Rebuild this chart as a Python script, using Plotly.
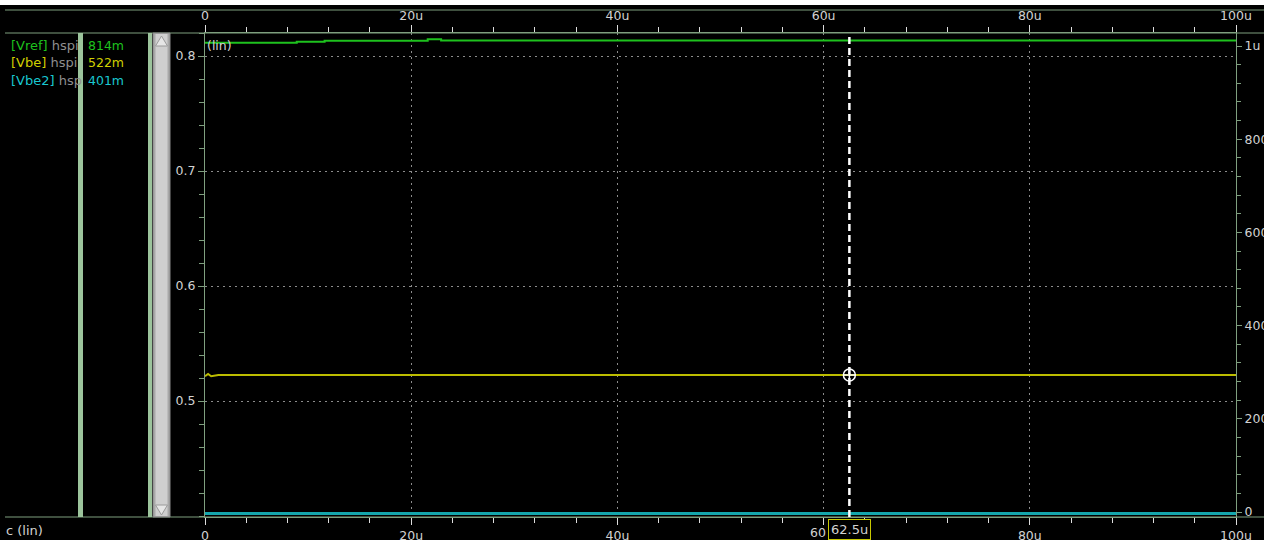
import plotly.graph_objects as go

# ---------------- data ----------------
vref_t_us = [0, 8.9, 11.6, 21.6, 22.9, 100]
vref_v = [0.8116, 0.8125, 0.8133, 0.8145, 0.8135, 0.8135]

vbe_t_us = [0, 0.3, 0.6, 1.3, 100]
vbe_v = [0.5215, 0.5235, 0.5215, 0.5226, 0.5226]

vbe2_t_us = [0, 100]
vbe2_v = [0.4022, 0.4022]

x_tick_us = [0, 20, 40, 60, 80, 100]
x_tick_text_top = ["0", "20u", "40u", "60u", "80u", "100u"]
x_tick_text_bottom = ["0", "20u", "40u", "", "80u", "100u"]
x_tick_hidden_label = "60"   # bottom 60u label, partly hidden by the cursor box
y_tick_vals = [0.5, 0.6, 0.7, 0.8]
y_tick_text = ["0.5", "0.6", "0.7", "0.8"]
y2_tick_vals = [0, 200e-9, 400e-9, 600e-9, 800e-9, 1e-6]
y2_tick_text = ["0", "200n", "400n", "600n", "800n", "1u"]

legend_names = ["[Vref]", "[Vbe]", "[Vbe2]"]
legend_src = ["hspi", "hspi", "hsp"]
legend_vals = ["814m", "522m", "401m"]
cursor_us = 62.5
cursor_label = "62.5u"

# ---------------- styling ----------------
W, H = 1264, 540
def px(x): return x / W
def py(y): return 1 - y / H

C_VREF = "#1ec21e"
C_VBE = "#bcbc00"
C_VBE2 = "#14a6ac"
AX = "#7f9f7f"
TXT = "#d2d2d2"
GRID = "#8c8c8c"
FONT = "DejaVu Sans"

us = 1e-6
fig = go.Figure()
fig.add_trace(go.Scatter(x=[t * us for t in vref_t_us], y=vref_v, mode="lines",
                         line=dict(color=C_VREF, width=2, shape="hv"), hoverinfo="skip"))
fig.add_trace(go.Scatter(x=[t * us for t in vbe_t_us], y=vbe_v, mode="lines",
                         line=dict(color=C_VBE, width=2), hoverinfo="skip"))
fig.add_trace(go.Scatter(x=[t * us for t in vbe2_t_us], y=vbe2_v, mode="lines",
                         line=dict(color=C_VBE2, width=3), hoverinfo="skip"))
# cursor marker on Vbe
fig.add_trace(go.Scatter(x=[cursor_us * us], y=[vbe_v[-1]], mode="markers",
                         marker=dict(symbol="circle-cross-open", size=12, color="white",
                                     line=dict(width=1.5, color="white")), hoverinfo="skip"))
# dummy traces so extra axes render
fig.add_trace(go.Scatter(x=[0], y=[0.6], xaxis="x2", yaxis="y", mode="markers",
                         marker=dict(opacity=0), hoverinfo="skip"))
fig.add_trace(go.Scatter(x=[0], y=[0], xaxis="x", yaxis="y2", mode="markers",
                         marker=dict(opacity=0), hoverinfo="skip"))

xdom = [px(205), px(1236)]
ydom = [py(517), py(33)]
xr = [0, 100 * us]
yr = [0.8 - (517 - 56) / 1150, 0.8 + (56 - 33) / 1150]
y2r = [-(517 - 512) / 466 * 1e-6, (1 + (46 - 33) / 466) * 1e-6]

common_x = dict(range=xr, domain=xdom, tickvals=[t * us for t in x_tick_us],
                ticks="outside", ticklen=7, tickcolor="#dddddd", tickwidth=1,
                showline=True, linecolor=AX, linewidth=1, zeroline=False, automargin=False,
                tickfont=dict(family=FONT, size=12.5, color=TXT),
                minor=dict(dtick=4 * us, ticks="outside", ticklen=5, tickcolor="#dddddd", showgrid=False))

fig.update_layout(
    width=W, height=H, autosize=False, margin=dict(l=0, r=0, t=0, b=0),
    paper_bgcolor="black", plot_bgcolor="black", showlegend=False,
    font=dict(family=FONT, color=TXT),
    xaxis=dict(**common_x, ticktext=x_tick_text_bottom, side="bottom", showgrid=True,
               gridcolor=GRID, griddash="2px,4px", gridwidth=1, anchor="y"),
    xaxis2=dict(**common_x, ticktext=x_tick_text_top, side="top", overlaying="x", matches="x",
                showgrid=False, anchor="y"),
    yaxis=dict(range=yr, domain=ydom, tickvals=y_tick_vals, ticktext=y_tick_text,
               ticks="outside", ticklen=6, tickcolor=AX, showline=True, linecolor=AX,
               linewidth=1, zeroline=False, showgrid=True, gridcolor=GRID, automargin=False,
               griddash="2px,4px", gridwidth=1,
               tickfont=dict(family=FONT, size=12.5, color=TXT),
               minor=dict(dtick=0.02, ticks="outside", ticklen=5, tickcolor=AX, showgrid=False)),
    yaxis2=dict(range=y2r, overlaying="y", side="right", anchor="x", automargin=False,
                tickvals=y2_tick_vals, ticktext=y2_tick_text, ticks="outside", ticklen=5,
                tickcolor=AX, showline=True, linecolor=AX, linewidth=1, zeroline=False,
                showgrid=False, tickfont=dict(family=FONT, size=12.5, color=TXT),
                minor=dict(dtick=40e-9, ticks="outside", ticklen=4, tickcolor=AX, showgrid=False)),
)

shapes = []
# white top strip
shapes.append(dict(type="rect", xref="paper", yref="paper", x0=0, x1=1, y0=py(5), y1=1,
                   fillcolor="white", line=dict(width=0)))
# horizontal frame lines
for yy in (10, 33, 517):
    shapes.append(dict(type="line", xref="paper", yref="paper", x0=px(5), x1=1,
                       y0=py(yy), y1=py(yy), line=dict(color=AX, width=1)))
# left panel bars
for x0, x1 in ((78, 83), (148, 152)):
    shapes.append(dict(type="rect", xref="paper", yref="paper", x0=px(x0), x1=px(x1),
                       y0=py(517), y1=py(33), fillcolor="#9cc49c", line=dict(width=0)))
# scrollbar
shapes.append(dict(type="rect", xref="paper", yref="paper", x0=px(153), x1=px(170),
                   y0=py(517), y1=py(33), fillcolor="#a8a8a8", line=dict(color="#8a8a8a", width=1)))
shapes.append(dict(type="rect", xref="paper", yref="paper", x0=px(155.5), x1=px(167.5),
                   y0=py(516), y1=py(34), fillcolor="#cfcfcf", line=dict(width=0)))
shapes.append(dict(type="path", xref="paper", yref="paper",
                   path=f"M {px(155.5)},{py(46)} L {px(161.5)},{py(36)} L {px(167.5)},{py(46)} Z",
                   fillcolor="#e6e6e6", line=dict(color="#9a9a9a", width=1)))
shapes.append(dict(type="path", xref="paper", yref="paper",
                   path=f"M {px(155.5)},{py(505)} L {px(161.5)},{py(515)} L {px(167.5)},{py(505)} Z",
                   fillcolor="#e6e6e6", line=dict(color="#9a9a9a", width=1)))
# cursor line
shapes.append(dict(type="line", xref="x", yref="paper", x0=cursor_us * us, x1=cursor_us * us,
                   y0=py(517), y1=py(33), line=dict(color="white", width=2.5, dash="7px,4px")))
fig.update_layout(shapes=shapes)

ann = []
name_cols = [C_VREF, "#d0d000", "#19c8d0"]
for i, (n, s, v) in enumerate(zip(legend_names, legend_src, legend_vals)):
    yy = 45 + i * 17.5
    ann.append(dict(xref="paper", yref="paper", x=px(9), y=py(yy), xanchor="left", yanchor="middle",
                    showarrow=False,
                    text=f"<span style='color:{name_cols[i]}'>{n}</span> <span style='color:#8f8f8f'>{s}</span>",
                    font=dict(family=FONT, size=13)))
    ann.append(dict(xref="paper", yref="paper", x=px(86), y=py(yy), xanchor="left", yanchor="middle",
                    showarrow=False, text=v, font=dict(family=FONT, size=12.5, color=name_cols[i])))
ann.append(dict(xref="paper", yref="paper", x=px(205), y=py(45), xanchor="left", yanchor="middle",
                showarrow=False, text="(lin)", font=dict(family=FONT, size=12.5, color=TXT)))
ann.append(dict(xref="paper", yref="paper", x=px(4), y=py(521), xanchor="left", yanchor="top",
                showarrow=False, text="c (lin)", font=dict(family=FONT, size=13, color=TXT)))
ann.append(dict(xref="paper", yref="paper", x=px(828), y=py(532), xanchor="right", yanchor="middle",
                showarrow=False, text=x_tick_hidden_label, font=dict(family=FONT, size=12.5, color=TXT)))
ann.append(dict(xref="x", yref="paper", x=cursor_us * us, y=py(519), xanchor="center", yanchor="top",
                showarrow=False, text=cursor_label, bgcolor="black", bordercolor="#c8c800",
                borderwidth=1, borderpad=2, font=dict(family=FONT, size=13, color=TXT)))
fig.update_layout(annotations=ann)

fig.write_html("out.html")
